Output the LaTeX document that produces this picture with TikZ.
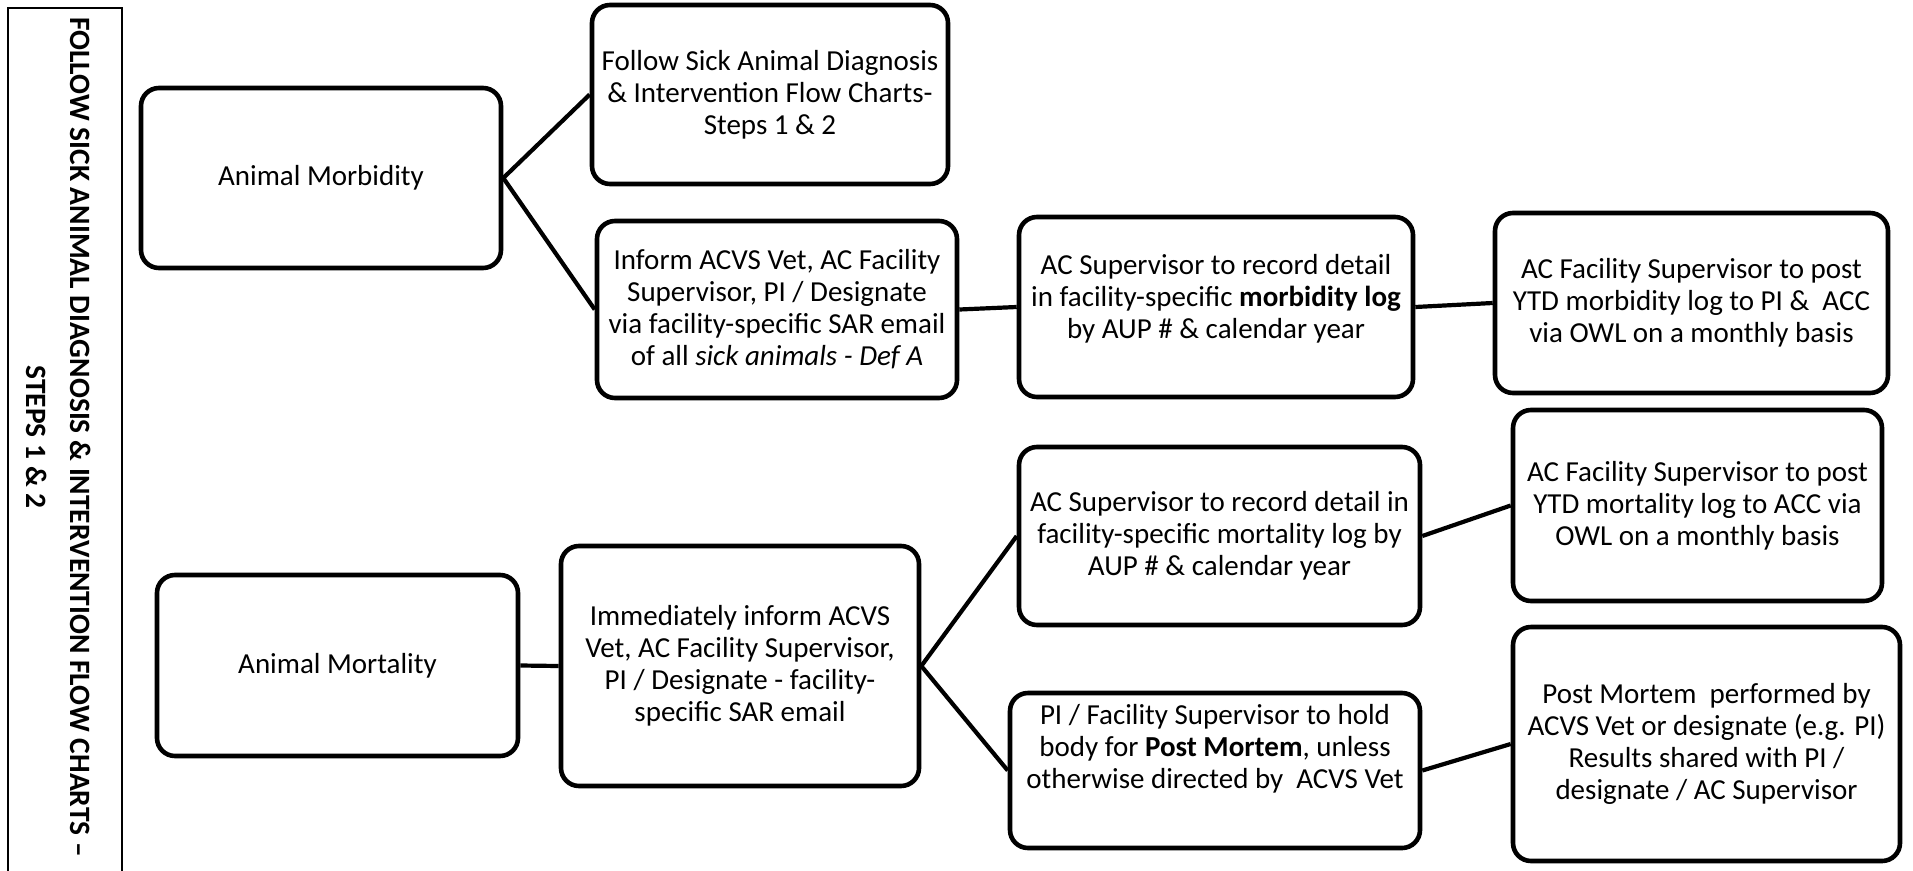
\documentclass[tikz,border=0pt]{standalone}
\usepackage{fontspec}
\setmainfont{Carlito}
\newcommand{\liftup}[2]{\raisebox{#1}[\height][\depth]{\begin{tabular}{@{}c@{}}#2\end{tabular}}}
\begin{document}
\begin{tikzpicture}[x=1pt,y=-1pt,
  box/.style={draw=black, line width=4.6pt, rounded corners=18pt, align=center, inner sep=0pt, font=\fontsize{29}{32}\selectfont},
  link/.style={draw=black, line width=4.2pt},
  ttl/.style={font=\bfseries\fontsize{29.5}{32}\selectfont, rotate=-90, inner sep=0pt}]
\useasboundingbox (0,0) rectangle (1913,870);
\fill[white] (0,0) rectangle (1913,870);
\node[draw=black, line width=2.4pt, minimum width=114pt, minimum height=880pt, inner sep=0pt, anchor=north west] (frame) at (7,7) {};
\node[ttl] (t1) at (81,437) {FOLLOW SICK ANIMAL DIAGNOSIS \& INTERVENTION FLOW CHARTS –};
\node[ttl] (t2) at (37,437) {STEPS 1 \& 2};

\node[box, minimum width=360pt, minimum height=180pt] (morb) at (321,178) {Animal Morbidity};
\node[box, minimum width=356pt, minimum height=179pt] (follow) at (770,94.5) {Follow Sick Animal Diagnosis\\\& Intervention Flow Charts-\\Steps 1 \& 2};
\node[box, minimum width=360pt, minimum height=177pt] (inform) at (777,309.5) {Inform ACVS Vet, AC Facility\\Supervisor, PI / Designate\\via facility-specific SAR email\\of all \textit{sick animals - Def A}};
\node[box, minimum width=394pt, minimum height=180pt] (supmorb) at (1216,307) {\liftup{7pt}{AC Supervisor to record detail\\in facility-specific \textbf{morbidity log}\\by AUP \# \& calendar year}};
\node[box, minimum width=393pt, minimum height=180pt] (facmorb) at (1691.5,303) {AC Facility Supervisor to post\\YTD morbidity log to PI \&~ ACC\\via OWL on a monthly basis};
\node[box, minimum width=361pt, minimum height=181pt] (mort) at (337.5,665.5) {Animal Mortality};
\node[box, minimum width=358pt, minimum height=240pt] (immed) at (740,666) {Immediately inform ACVS\\Vet, AC Facility Supervisor,\\PI / Designate - facility-\\specific SAR email};
\node[box, minimum width=401pt, minimum height=178pt] (supmort) at (1219.5,536) {AC Supervisor to record detail in\\facility-specific mortality log by\\AUP \# \& calendar year};
\node[box, minimum width=369pt, minimum height=191pt] (facmort) at (1697.5,505.5) {AC Facility Supervisor to post\\YTD mortality log to ACC via\\OWL on a monthly basis};
\node[box, minimum width=410pt, minimum height=155pt] (hold) at (1215,770.5) {\liftup{20pt}{PI / Facility Supervisor to hold\\body for \textbf{Post Mortem}, unless\\otherwise directed by~ ACVS Vet}};
\node[box, minimum width=387pt, minimum height=234pt] (pm) at (1706.5,744) {Post Mortem~ performed by\\ACVS Vet or designate (e.g. PI)\\Results shared with PI /\\designate / AC Supervisor};

\draw[link] (morb.east) -- (follow.west);
\draw[link] (morb.east) -- (inform.west);
\draw[link] (inform.east) -- (supmorb.west);
\draw[link] (supmorb.east) -- (facmorb.west);
\draw[link] (mort.east) -- (immed.west);
\draw[link] (immed.east) -- (supmort.west);
\draw[link] (immed.east) -- (hold.west);
\draw[link] (supmort.east) -- (facmort.west);
\draw[link] (hold.east) -- (pm.west);
\end{tikzpicture}
\end{document}
